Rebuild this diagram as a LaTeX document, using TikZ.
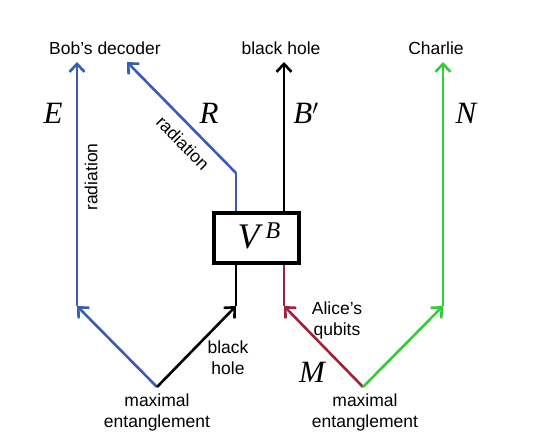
\documentclass[tikz,border=0pt]{standalone}
\usepackage{fontspec}
\setmainfont{Liberation Sans}
\newfontfamily\tms{Liberation Serif}
\usepackage{xcolor}
\definecolor{RadBlue}{RGB}{58,92,185}
\definecolor{AliceRed}{RGB}{165,30,60}
\definecolor{CharlieGreen}{RGB}{50,205,55}
\usetikzlibrary{positioning,arrows.meta}

\begin{document}
\begin{tikzpicture}[x=1pt, y=1pt,
    lb/.style={font=\fontsize{17.5}{21}\selectfont, align=center, inner sep=0pt},
    sym/.style={font=\fontsize{31}{31}\selectfont\tms\itshape, inner sep=0pt},
    a/.style={-{Straight Barb[length=8pt, width=15pt, line width=2.6pt]}, line width=2.6pt},
    ln/.style={line width=2.6pt}
]
    \useasboundingbox (0,0) rectangle (536,434);
    % box
    \node[draw, line width=4pt, minimum width=85pt, minimum height=50pt, inner sep=0pt] (vb) at (256.5,196) {};
    \node[font=\fontsize{36}{36}\selectfont\tms\itshape] (vlab) at (259,198) {V\,\raisebox{10pt}{\fontsize{24}{24}\selectfont B}};
    % labels
    \node[lb] (bob) at (105,386) {Bob’s decoder};
    \node[lb] (bhtop) at (281,386) {black hole};
    \node[lb] (charlie) at (436,386) {Charlie};
    \node[lb] (me1) at (157,22) {maximal\\entanglement};
    \node[lb] (me2) at (365,22) {maximal\\entanglement};
    \node[lb] (bhlow) at (228,76) {black\\hole};
    \node[lb] (alice) at (337,114) {Alice’s\\qubits};
    \node[lb, rotate=90] (rad1) at (91,257) {radiation};
    \node[lb, rotate=-45.5] (rad2) at (183,291) {radiation};
    \node[sym] (lE) at (53,321) {E};
    \node[sym] (lR) at (209,321) {R};
    \node[sym] (lB) at (306,321) {B$'$};
    \node[sym] (lN) at (466,321) {N};
    \node[sym] (lM) at (312,62) {M};
    % corners
    \coordinate (s1) at (157,47);
    \coordinate (s2) at (363,47);
    \coordinate (e1) at (77,128);
    \coordinate (b1) at (236,128);
    \coordinate (m1) at (284,128);
    \coordinate (n1) at (443,128);
    \coordinate (r1) at (236,261);
    \coordinate (t1) at (77,372);
    \coordinate (t2) at (127,372);
    \coordinate (t3) at (284,372);
    \coordinate (t4) at (443,372);
    % connectors
    \draw[a, RadBlue] (s1) -- (e1);
    \draw[a, RadBlue] (e1) -- (t1);
    \draw[a] (s1) -- (b1);
    \draw[ln] (b1) -- (b1 |- vb.south);
    \draw[a, AliceRed] (s2) -- (m1);
    \draw[ln, AliceRed] (m1) -- (m1 |- vb.south);
    \draw[a, CharlieGreen] (s2) -- (n1);
    \draw[a, CharlieGreen] (n1) -- (t4);
    \draw[ln, RadBlue] (r1 |- vb.north) -- (r1);
    \draw[a, RadBlue] (r1) -- (t2);
    \draw[a] (t3 |- vb.north) -- (t3);
\end{tikzpicture}
\end{document}
